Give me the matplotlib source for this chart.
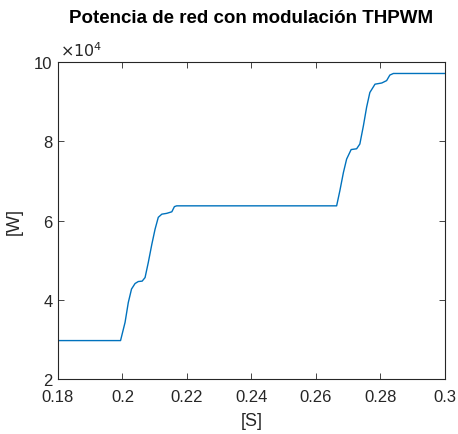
import matplotlib
matplotlib.use("Agg")
import matplotlib.pyplot as plt
from matplotlib.ticker import FuncFormatter

# Grid power vs time, THPWM modulation (values in W)
t_s = [0.1800, 0.1994, 0.2008, 0.2018, 0.2028, 0.2039, 0.2049, 0.2061, 0.2070,
       0.2080, 0.2091, 0.2101, 0.2111, 0.2122, 0.2137, 0.2153, 0.2161, 0.2168,
       0.2664, 0.2674, 0.2685, 0.2695, 0.2709, 0.2726, 0.2736, 0.2747, 0.2757,
       0.2767, 0.2783, 0.2804, 0.2819, 0.2829, 0.2840, 0.3000]
p_w = [2.97e4, 2.97e4, 3.43e4, 3.93e4, 4.27e4, 4.41e4, 4.46e4, 4.47e4, 4.56e4,
       4.94e4, 5.40e4, 5.78e4, 6.08e4, 6.16e4, 6.18e4, 6.22e4, 6.35e4, 6.37e4,
       6.37e4, 6.75e4, 7.21e4, 7.55e4, 7.79e4, 7.81e4, 7.93e4, 8.39e4, 8.86e4,
       9.23e4, 9.44e4, 9.47e4, 9.53e4, 9.67e4, 9.71e4, 9.71e4]

x_ticks = [0.18, 0.2, 0.22, 0.24, 0.26, 0.28, 0.3]
x_tick_labels = ["0.18", "0.2", "0.22", "0.24", "0.26", "0.28", "0.3"]
y_ticks = [2e4, 4e4, 6e4, 8e4, 10e4]

plt.rcParams['font.family'] = ['Liberation Sans', 'DejaVu Sans']
axis_col = "#262626"

fig = plt.figure(figsize=(4.58, 4.35), dpi=100, facecolor="white")
ax = fig.add_axes([0.1266, 0.1264, 0.845, 0.7288])

ax.plot(t_s, p_w, color="#0072BD", linewidth=1.0)

ax.set_xlim(0.18, 0.3)
ax.set_ylim(2e4, 10e4)
ax.set_xticks(x_ticks)
ax.set_xticklabels(x_tick_labels)
ax.set_yticks(y_ticks)
ax.yaxis.set_major_formatter(FuncFormatter(lambda v, _: f"{v / 1e4:g}"))

ax.tick_params(direction="in", length=4, width=0.6, colors=axis_col,
               labelsize=12, top=True, right=True)
ax.tick_params(axis="x", pad=7)
ax.tick_params(axis="y", pad=4)
for spine in ax.spines.values():
    spine.set_color(axis_col)
    spine.set_linewidth(0.8)

ax.text(0.005, 1.008, r"$\times10^{4}$", transform=ax.transAxes, fontsize=11.5,
        color=axis_col, ha="left", va="bottom")

ax.set_xlabel("[S]", fontsize=13, color=axis_col, labelpad=6)
ax.set_ylabel("[W]", fontsize=13, color=axis_col, labelpad=8)
ax.set_title("Potencia de red con modulación THPWM", fontsize=13.5,
             fontweight="bold", color="black", pad=29)

fig.savefig("out.png", dpi=100, facecolor="white")
